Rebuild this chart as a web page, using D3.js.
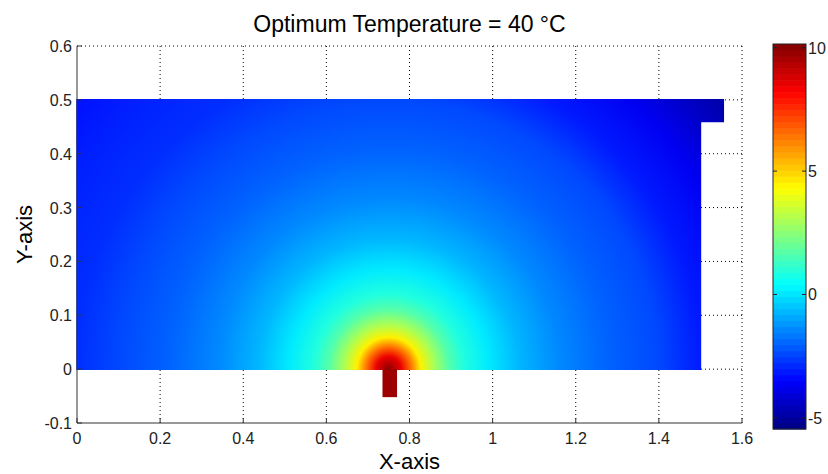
<!DOCTYPE html>
<html>
<head>
<meta charset="utf-8">
<script src="https://cdn.jsdelivr.net/npm/d3@7"></script>
<style>
  body { margin: 0; background: #fff; }
  text { font-family: "Liberation Sans", Arial, sans-serif; }
</style>
</head>
<body>
<script>
const W = 828, H = 474;
const margin = { top: 46, right: 86, bottom: 51, left: 77 };

// tick values
const xTicks = [0, 0.2, 0.4, 0.6, 0.8, 1, 1.2, 1.4, 1.6];
const yTicks = [-0.1, 0, 0.1, 0.2, 0.3, 0.4, 0.5, 0.6];
const cbTicks = [-5, 0, 5, 10];
const cRange = [-5.45, 10.15];

// temperature falling off with distance from the heat source at (0.75, 0)
const source = [0.75, 0];
const radius    = [0, 0.03, 0.053, 0.077, 0.108, 0.144, 0.18, 0.24, 0.313, 0.41, 0.53, 0.65, 0.75, 0.87, 1.01];
const tempLeft  = [10, 8.5, 6.5, 4.5, 3.0, 1.7, 0.9, 0.1, -0.7, -1.4, -2.0, -2.4, -2.8, -3.0, -3.3];
const tempRight = [10, 8.5, 6.5, 4.5, 3.0, 1.7, 0.9, 0.1, -0.7, -1.4, -2.0, -2.4, -3.1, -3.7, -4.7];

// domain outline + heater stem
const domainX = [0, 1.5, 1.5, 1.555, 1.555, 0];
const domainY = [0, 0, 0.46, 0.46, 0.5, 0.5];
const stemX = [0.735, 0.77], stemY = [-0.052, 0], stemTemp = 9.7;

const svg = d3.select("body").append("svg")
    .attr("width", W).attr("height", H);

const xScale = d3.scaleLinear().domain([0, 1.6]).range([margin.left, W - margin.right]);
const yScale = d3.scaleLinear().domain([-0.1, 0.6]).range([H - margin.bottom, margin.top]);

// jet colormap
const jet = d3.scaleLinear()
    .domain([0, 0.125, 0.375, 0.625, 0.875, 1])
    .range(["#000080", "#0000ff", "#00ffff", "#ffff00", "#ff0000", "#800000"])
    .clamp(true);
const tScale = d3.scaleLinear().domain(cRange).range([0, 1]).clamp(true);
const color = v => jet(tScale(v));

// grid (dotted)
const grid = svg.append("g");
grid.selectAll(".gx").data(xTicks.slice(1)).enter().append("line")
    .attr("x1", d => xScale(d)).attr("x2", d => xScale(d))
    .attr("y1", yScale(-0.1)).attr("y2", yScale(0.6))
    .attr("stroke", "#000").attr("stroke-width", 1).attr("stroke-dasharray", "1,3");
grid.selectAll(".gy").data(yTicks.slice(1)).enter().append("line")
    .attr("y1", d => yScale(d)).attr("y2", d => yScale(d))
    .attr("x1", xScale(0)).attr("x2", xScale(1.6))
    .attr("stroke", "#000").attr("stroke-width", 1).attr("stroke-dasharray", "1,3");

// radial gradients
const defs = svg.append("defs");
const rMax = radius[radius.length - 1];
function makeGrad(id, temps) {
    const g = defs.append("radialGradient")
        .attr("id", id)
        .attr("gradientUnits", "userSpaceOnUse")
        .attr("cx", xScale(source[0])).attr("cy", yScale(source[1]))
        .attr("fx", xScale(source[0])).attr("fy", yScale(source[1]))
        .attr("r", xScale(rMax) - xScale(0));
    g.selectAll("stop").data(radius).enter().append("stop")
        .attr("offset", d => d / rMax)
        .attr("stop-color", (d, i) => color(temps[i]));
}
makeGrad("gradL", tempLeft);
makeGrad("gradR", tempRight);

defs.append("clipPath").attr("id", "clipL").append("rect")
    .attr("x", 0).attr("y", 0).attr("width", xScale(source[0]) + 2).attr("height", H);
defs.append("clipPath").attr("id", "clipR").append("rect")
    .attr("x", xScale(source[0])).attr("y", 0).attr("width", W).attr("height", H);

const outline = domainX.map((x, i) => [xScale(x), yScale(domainY[i])]);
const line = d3.line();
svg.append("path").attr("d", line(outline) + "Z")
    .attr("fill", "url(#gradL)").attr("clip-path", "url(#clipL)")
    .attr("stroke", "url(#gradL)").attr("stroke-width", 1.5);
svg.append("path").attr("d", line(outline) + "Z")
    .attr("fill", "url(#gradR)").attr("clip-path", "url(#clipR)")
    .attr("stroke", "url(#gradR)").attr("stroke-width", 1.5);

// heater stem
svg.append("rect")
    .attr("x", xScale(stemX[0])).attr("width", xScale(stemX[1]) - xScale(stemX[0]))
    .attr("y", yScale(stemY[1])).attr("height", yScale(stemY[0]) - yScale(stemY[1]))
    .attr("fill", color(stemTemp));

// axes
const axisColor = "#333";
svg.append("line")
    .attr("x1", xScale(0)).attr("x2", xScale(0))
    .attr("y1", yScale(-0.1)).attr("y2", yScale(0.6))
    .attr("stroke", axisColor);
svg.append("line")
    .attr("x1", xScale(0)).attr("x2", xScale(1.6))
    .attr("y1", yScale(-0.1)).attr("y2", yScale(-0.1))
    .attr("stroke", axisColor);

svg.selectAll(".xt").data(xTicks).enter().append("line")
    .attr("x1", d => xScale(d)).attr("x2", d => xScale(d))
    .attr("y1", yScale(-0.1)).attr("y2", yScale(-0.1) - 5)
    .attr("stroke", axisColor);
svg.selectAll(".yt").data(yTicks).enter().append("line")
    .attr("y1", d => yScale(d)).attr("y2", d => yScale(d))
    .attr("x1", xScale(0)).attr("x2", xScale(0) + 5)
    .attr("stroke", axisColor);

svg.selectAll(".xl").data(xTicks).enter().append("text")
    .attr("x", d => xScale(d)).attr("y", yScale(-0.1) + 21)
    .attr("text-anchor", "middle")
    .style("font-size", "16px").attr("fill", "#222")
    .text(d => d);
svg.selectAll(".yl").data(yTicks).enter().append("text")
    .attr("x", xScale(0) - 5).attr("y", d => yScale(d) + 6)
    .attr("text-anchor", "end")
    .style("font-size", "16px").attr("fill", "#222")
    .text(d => d);

// labels
svg.append("text")
    .attr("x", (xScale(0) + xScale(1.6)) / 2).attr("y", 32)
    .attr("text-anchor", "middle").style("font-size", "23px")
    .text("Optimum Temperature = 40 \u00B0C");
svg.append("text")
    .attr("x", (xScale(0) + xScale(1.6)) / 2).attr("y", 469)
    .attr("text-anchor", "middle").style("font-size", "22px")
    .text("X-axis");
svg.append("text")
    .attr("transform", "translate(32," + ((yScale(-0.1) + yScale(0.6)) / 2) + ")rotate(-90)")
    .attr("text-anchor", "middle").style("font-size", "22px")
    .text("Y-axis");

// colorbar
const cbX = 773, cbW = 33;
const cbScale = d3.scaleLinear().domain(cRange).range([429, 44]);
const nLevels = 64;
const levels = d3.range(nLevels);
const step = (cRange[1] - cRange[0]) / nLevels;
svg.selectAll(".cb").data(levels).enter().append("rect")
    .attr("x", cbX).attr("width", cbW)
    .attr("y", d => cbScale(cRange[0] + (d + 1) * step))
    .attr("height", d => cbScale(cRange[0] + d * step) - cbScale(cRange[0] + (d + 1) * step) + 0.5)
    .attr("fill", d => jet((d + 0.5) / nLevels));
svg.append("rect")
    .attr("x", cbX).attr("y", 44).attr("width", cbW).attr("height", 385)
    .attr("fill", "none").attr("stroke", "#222");
cbTicks.forEach(t => {
    svg.append("line").attr("x1", cbX).attr("x2", cbX + 4)
        .attr("y1", cbScale(t)).attr("y2", cbScale(t)).attr("stroke", "#222");
    svg.append("line").attr("x1", cbX + cbW - 4).attr("x2", cbX + cbW)
        .attr("y1", cbScale(t)).attr("y2", cbScale(t)).attr("stroke", "#222");
});
svg.selectAll(".cbl").data(cbTicks).enter().append("text")
    .attr("x", cbX + cbW + 2).attr("y", d => cbScale(d) + 6)
    .style("font-size", "16px").attr("fill", "#222")
    .text(d => d);
</script>
</body>
</html>
